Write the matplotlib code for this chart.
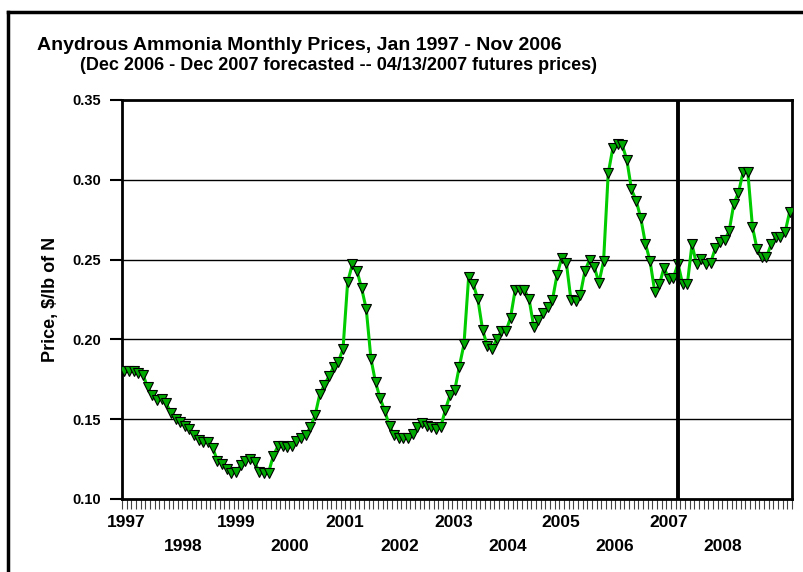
import matplotlib
matplotlib.use("Agg")
import matplotlib.pyplot as plt
from matplotlib.lines import Line2D
import numpy as np

plt.rcParams["font.family"] = ["Liberation Sans", "DejaVu Sans"]
plt.rcParams["font.weight"] = "bold"

# monthly price, $/lb of N, Jan 1997 onward (Dec 2006 on = futures)
prices = [
    0.180, 0.180, 0.180, 0.179, 0.178, 0.170, 0.165, 0.162, 0.1625, 0.160, 0.154, 0.150,
    0.148, 0.146, 0.144, 0.140, 0.137, 0.136, 0.136, 0.132, 0.124, 0.122, 0.119, 0.116,
    0.117, 0.121, 0.124, 0.125, 0.123, 0.117, 0.116, 0.1165, 0.127, 0.133, 0.133, 0.1325,
    0.133, 0.1365, 0.1385, 0.140, 0.145, 0.1525, 0.1655, 0.1715, 0.177, 0.183, 0.186, 0.194,
    0.236, 0.247, 0.243, 0.232, 0.219, 0.188, 0.173, 0.163, 0.155, 0.1455, 0.140, 0.1385,
    0.1385, 0.1385, 0.1405, 0.145, 0.1475, 0.1455, 0.145, 0.144, 0.145, 0.156, 0.165, 0.168,
    0.183, 0.197, 0.239, 0.2345, 0.225, 0.206, 0.196, 0.194, 0.200, 0.205, 0.205, 0.2135,
    0.231, 0.231, 0.231, 0.225, 0.208, 0.212, 0.2165, 0.220, 0.2245, 0.2405, 0.251, 0.248,
    0.2245, 0.224, 0.228, 0.243, 0.250, 0.2455, 0.2355, 0.249, 0.304, 0.320, 0.3225, 0.322,
    0.3125, 0.294, 0.287, 0.276, 0.260, 0.249, 0.230, 0.2345, 0.245, 0.238, 0.2385, 0.2475,
    0.2345, 0.2345, 0.2595, 0.247, 0.2505, 0.247, 0.248, 0.257, 0.261, 0.262, 0.268, 0.285,
    0.292, 0.305, 0.305, 0.2705, 0.2565, 0.2515, 0.2515, 0.2595, 0.264, 0.264, 0.267, 0.280,
]
forecast_start = 119  # Dec 2006

years = [str(y) for y in range(1997, 2009)]
year_pos = [0.4, 12.6, 24.0, 35.6, 47.4, 59.1, 70.7, 82.3, 93.7, 105.3, 116.9, 128.5]
yticks = [0.10, 0.15, 0.20, 0.25, 0.30, 0.35]

fig = plt.figure(figsize=(8.04, 5.72), dpi=100)
ax = fig.add_axes([122 / 804, 1 - 499 / 572, 670 / 804, 399 / 572])

x = np.arange(len(prices))
ax.plot(x, prices, color="#00cc00", lw=2.2, zorder=3)
ax.plot(x, prices, ls="none", marker="v", ms=7.5, mfc="#00aa00", mec="black",
        mew=0.8, zorder=4)
ax.axvline(forecast_start, color="black", lw=2.8, zorder=5)

ax.set_xlim(-0.5, len(prices) - 0.5)
ax.set_ylim(0.10, 0.35)
ax.set_yticks(yticks)
ax.set_yticklabels([f"{v:.2f}" for v in yticks])
for v in yticks[1:-1]:
    ax.axhline(v, color="black", lw=1.0, zorder=1)

# one small tick per month below the axis
ax.set_xticks(np.arange(-0.5, len(prices)), minor=True)
ax.set_xticks([])
ax.tick_params(axis="x", which="minor", length=7, width=0.8, color="#444444", direction="out")
ax.tick_params(axis="y", which="major", length=9, width=1.5, direction="out", labelsize=10.5, pad=6)

for i, (lab, p) in enumerate(zip(years, year_pos)):
    ax.text(p, -0.058 if i % 2 == 0 else -0.12, lab, transform=ax.get_xaxis_transform(),
            ha="center", va="center", fontsize=12.5, fontweight="bold")

for s in ax.spines.values():
    s.set_linewidth(2.0)

ax.set_ylabel("Price, $/lb of N", fontsize=13, fontweight="bold", labelpad=10)

fig.text(37 / 804, 1 - 46 / 572, "Anydrous Ammonia Monthly Prices, Jan 1997 - Nov 2006",
         fontsize=14, fontweight="bold", va="center", ha="left")
fig.text(80 / 804, 1 - 66 / 572,
         "(Dec 2006 - Dec 2007 forecasted -- 04/13/2007 futures prices)",
         fontsize=13, fontweight="bold", va="center", ha="left")

# outer chart frame (right/bottom edges fall outside the image)
fig.add_artist(Line2D([8 / 804, 8 / 804], [0, 1 - 12 / 572], color="black", lw=2.5,
                      transform=fig.transFigure))
fig.add_artist(Line2D([8 / 804, 1], [1 - 12 / 572, 1 - 12 / 572], color="black", lw=2.5,
                      transform=fig.transFigure))

fig.savefig("out.png", dpi=100)
